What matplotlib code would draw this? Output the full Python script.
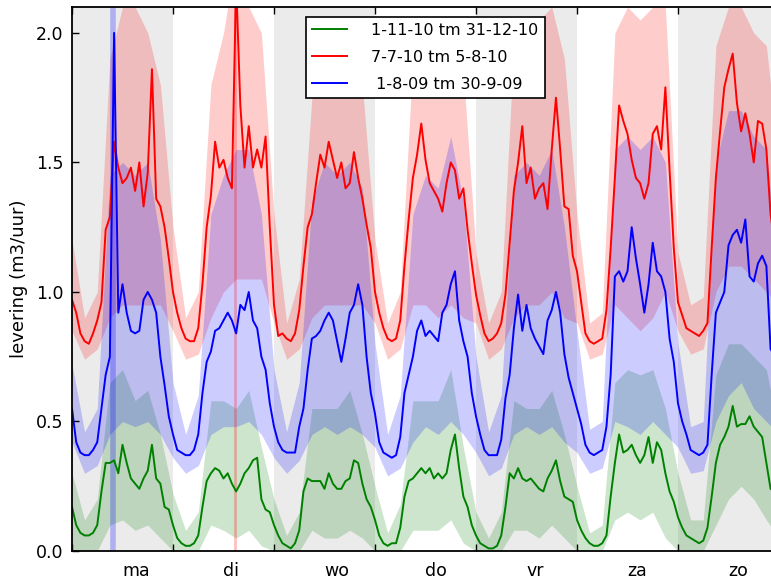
import numpy as np
import matplotlib
matplotlib.use("Agg")
import matplotlib.pyplot as plt

# hourly means over one week (hour 0..168)
hours = np.arange(169)

green = [
    0.17, 0.10, 0.07, 0.06, 0.06, 0.07, 0.10, 0.23, 0.34, 0.34, 0.35, 0.30, 0.41, 0.34, 0.28, 0.26, 0.24, 0.28, 0.31, 0.41, 0.28, 0.26, 0.17, 0.16,
    0.10, 0.05, 0.03, 0.02, 0.02, 0.03, 0.06, 0.17, 0.27, 0.30, 0.32, 0.31, 0.28, 0.30, 0.26, 0.23, 0.26, 0.30, 0.32, 0.35, 0.36, 0.20, 0.16, 0.15,
    0.10, 0.06, 0.03, 0.02, 0.01, 0.03, 0.08, 0.23, 0.28, 0.27, 0.27, 0.27, 0.24, 0.30, 0.26, 0.24, 0.24, 0.27, 0.28, 0.35, 0.34, 0.26, 0.20, 0.17,
    0.12, 0.06, 0.03, 0.02, 0.03, 0.03, 0.09, 0.21, 0.27, 0.28, 0.30, 0.32, 0.30, 0.32, 0.28, 0.30, 0.28, 0.30, 0.39, 0.45, 0.32, 0.21, 0.17, 0.10,
    0.06, 0.03, 0.02, 0.01, 0.01, 0.02, 0.06, 0.17, 0.30, 0.28, 0.32, 0.28, 0.27, 0.28, 0.26, 0.24, 0.23, 0.28, 0.31, 0.35, 0.27, 0.21, 0.20, 0.19,
    0.12, 0.08, 0.05, 0.03, 0.02, 0.02, 0.03, 0.06, 0.21, 0.34, 0.45, 0.38, 0.39, 0.41, 0.37, 0.34, 0.37, 0.44, 0.34, 0.42, 0.39, 0.30, 0.23, 0.19,
    0.13, 0.09, 0.06, 0.05, 0.04, 0.03, 0.04, 0.09, 0.21, 0.34, 0.41, 0.44, 0.48, 0.56, 0.48, 0.49, 0.49, 0.52, 0.48, 0.46, 0.44, 0.34, 0.24, 0.23, 0.23,
]

red = [
    0.97, 0.92, 0.84, 0.81, 0.80, 0.84, 0.89, 0.96, 1.24, 1.29, 1.58, 1.48, 1.42, 1.44, 1.48, 1.39, 1.50, 1.33, 1.46, 1.86, 1.36, 1.33, 1.25, 1.13,
    1.00, 0.92, 0.86, 0.82, 0.81, 0.81, 0.86, 1.03, 1.25, 1.37, 1.58, 1.48, 1.51, 1.44, 1.40, 2.20, 1.72, 1.48, 1.64, 1.48, 1.55, 1.48, 1.60, 1.25,
    0.95, 0.83, 0.84, 0.82, 0.81, 0.84, 0.93, 1.10, 1.25, 1.30, 1.42, 1.53, 1.48, 1.58, 1.51, 1.44, 1.50, 1.40, 1.42, 1.54, 1.44, 1.36, 1.26, 1.17,
    1.00, 0.92, 0.86, 0.82, 0.81, 0.82, 0.89, 1.10, 1.28, 1.44, 1.53, 1.65, 1.51, 1.42, 1.39, 1.36, 1.31, 1.42, 1.50, 1.47, 1.36, 1.40, 1.24, 1.11,
    0.99, 0.91, 0.84, 0.81, 0.82, 0.84, 0.88, 0.99, 1.19, 1.39, 1.50, 1.64, 1.42, 1.48, 1.36, 1.40, 1.42, 1.32, 1.55, 1.75, 1.55, 1.33, 1.32, 1.14,
    1.08, 0.96, 0.84, 0.81, 0.80, 0.81, 0.82, 0.93, 1.17, 1.44, 1.72, 1.66, 1.61, 1.51, 1.44, 1.42, 1.36, 1.42, 1.61, 1.64, 1.55, 1.79, 1.47, 1.17,
    0.96, 0.91, 0.86, 0.85, 0.84, 0.83, 0.85, 0.88, 1.17, 1.44, 1.62, 1.79, 1.86, 1.92, 1.73, 1.62, 1.69, 1.61, 1.50, 1.66, 1.65, 1.55, 1.30, 1.18, 1.15,
]

blue = [
    0.55, 0.42, 0.38, 0.37, 0.37, 0.39, 0.42, 0.55, 0.68, 0.75, 2.00, 0.92, 1.03, 0.92, 0.85, 0.84, 0.85, 0.97, 1.00, 0.97, 0.92, 0.75, 0.64, 0.52,
    0.45, 0.39, 0.38, 0.37, 0.37, 0.39, 0.45, 0.61, 0.73, 0.77, 0.85, 0.86, 0.89, 0.92, 0.89, 0.84, 0.95, 0.93, 1.00, 0.89, 0.86, 0.75, 0.70, 0.57,
    0.48, 0.42, 0.39, 0.38, 0.38, 0.38, 0.48, 0.55, 0.70, 0.82, 0.83, 0.85, 0.89, 0.92, 0.89, 0.81, 0.73, 0.82, 0.92, 0.95, 1.03, 0.95, 0.75, 0.61,
    0.53, 0.42, 0.38, 0.37, 0.36, 0.37, 0.44, 0.61, 0.68, 0.75, 0.85, 0.89, 0.83, 0.85, 0.83, 0.81, 0.92, 0.95, 1.03, 1.08, 0.89, 0.81, 0.75, 0.61,
    0.52, 0.45, 0.39, 0.37, 0.37, 0.37, 0.43, 0.59, 0.68, 0.86, 0.99, 0.85, 0.95, 0.86, 0.82, 0.79, 0.76, 0.89, 0.93, 1.00, 0.92, 0.76, 0.67, 0.61,
    0.55, 0.49, 0.41, 0.38, 0.37, 0.38, 0.39, 0.48, 0.68, 1.06, 1.08, 1.04, 1.08, 1.25, 1.13, 1.03, 0.92, 1.03, 1.19, 1.08, 1.06, 1.00, 0.82, 0.73,
    0.57, 0.50, 0.45, 0.39, 0.38, 0.37, 0.38, 0.41, 0.68, 0.92, 0.96, 1.00, 1.18, 1.22, 1.24, 1.19, 1.28, 1.06, 1.04, 1.11, 1.14, 1.10, 0.78, 0.75, 0.74,
]

# spread bands, every 3 hours
band_hours = np.arange(0, 169, 3)

green_lo = [0.00, 0.00, 0.00, 0.10, 0.12, 0.08, 0.10, 0.05,
            0.00, 0.00, 0.00, 0.10, 0.08, 0.05, 0.08, 0.02,
            0.00, 0.00, 0.00, 0.08, 0.05, 0.05, 0.08, 0.05,
            0.00, 0.00, 0.00, 0.08, 0.08, 0.08, 0.12, 0.03,
            0.00, 0.00, 0.00, 0.08, 0.08, 0.05, 0.10, 0.05,
            0.00, 0.00, 0.00, 0.12, 0.15, 0.12, 0.15, 0.05,
            0.00, 0.00, 0.00, 0.10, 0.20, 0.25, 0.20, 0.12, 0.05]
green_hi = [0.30, 0.12, 0.20, 0.65, 0.70, 0.58, 0.62, 0.45,
            0.22, 0.08, 0.15, 0.58, 0.58, 0.55, 0.62, 0.40,
            0.20, 0.06, 0.15, 0.55, 0.55, 0.55, 0.62, 0.45,
            0.25, 0.07, 0.18, 0.58, 0.58, 0.58, 0.70, 0.40,
            0.15, 0.05, 0.15, 0.58, 0.55, 0.55, 0.62, 0.45,
            0.25, 0.07, 0.10, 0.65, 0.70, 0.68, 0.70, 0.55,
            0.30, 0.12, 0.12, 0.68, 0.80, 0.80, 0.75, 0.70, 0.45]

red_lo = [0.85, 0.74, 0.78, 0.90, 0.95, 0.95, 0.95, 0.95,
          0.85, 0.74, 0.76, 0.90, 1.00, 1.05, 1.05, 1.05,
          0.88, 0.74, 0.78, 0.90, 0.95, 0.95, 0.95, 0.95,
          0.88, 0.74, 0.78, 0.95, 0.95, 0.90, 0.95, 0.90,
          0.88, 0.74, 0.78, 0.90, 0.95, 0.95, 1.00, 0.90,
          0.88, 0.74, 0.76, 0.95, 0.90, 0.85, 0.90, 1.00,
          0.85, 0.76, 0.78, 1.00, 1.10, 1.10, 1.05, 1.00, 0.95]
red_hi = [1.20, 0.90, 1.00, 1.90, 2.10, 2.10, 2.00, 1.80,
          1.25, 0.90, 1.00, 1.80, 2.00, 2.30, 2.10, 2.00,
          1.30, 0.88, 1.05, 1.75, 2.00, 2.00, 1.95, 1.80,
          1.20, 0.88, 1.00, 1.90, 2.00, 2.00, 2.00, 1.85,
          1.15, 0.88, 1.00, 1.95, 2.05, 2.05, 2.10, 1.90,
          1.30, 0.88, 0.92, 2.00, 2.10, 2.05, 2.10, 2.10,
          1.15, 0.95, 0.98, 1.95, 2.10, 2.10, 2.00, 1.95, 1.50]

blue_lo = [0.42, 0.30, 0.33, 0.45, 0.50, 0.48, 0.50, 0.45,
           0.36, 0.30, 0.33, 0.45, 0.48, 0.48, 0.50, 0.45,
           0.36, 0.30, 0.35, 0.45, 0.48, 0.45, 0.48, 0.45,
           0.40, 0.29, 0.32, 0.42, 0.48, 0.45, 0.50, 0.45,
           0.38, 0.29, 0.32, 0.45, 0.48, 0.45, 0.48, 0.42,
           0.38, 0.30, 0.32, 0.50, 0.48, 0.45, 0.50, 0.45,
           0.40, 0.30, 0.31, 0.50, 0.60, 0.65, 0.55, 0.50, 0.45]
blue_hi = [0.72, 0.46, 0.55, 1.45, 1.50, 1.45, 1.50, 1.20,
           0.65, 0.45, 0.60, 1.30, 1.45, 1.55, 1.55, 1.30,
           0.70, 0.46, 0.65, 1.35, 1.50, 1.45, 1.50, 1.40,
           0.80, 0.45, 0.60, 1.30, 1.45, 1.40, 1.60, 1.35,
           0.75, 0.46, 0.60, 1.45, 1.50, 1.45, 1.55, 1.25,
           0.85, 0.47, 0.50, 1.55, 1.60, 1.55, 1.60, 1.50,
           0.80, 0.48, 0.50, 1.50, 1.70, 1.70, 1.60, 1.55, 1.05]

# single-sample outliers whose band covers the whole axis
spike_hours = [9.8, 38.8]
spike_lo = [0.0, 0.0]
spike_hi = [2.1, 2.1]
spike_colors = ["b", "r"]

day_names = ["ma", "di", "wo", "do", "vr", "za", "zo"]
shaded_days = [0, 2, 4, 6]
labels = ["1-11-10 tm 31-12-10", "7-7-10 tm 5-8-10", " 1-8-09 tm 30-9-09"]

fig = plt.figure(figsize=(7.71, 5.80), dpi=100)
ax = fig.add_axes([72 / 771, 29 / 580, 707 / 771, 544 / 580])

for d in shaded_days:
    ax.axvspan(24 * d, 24 * d + 24, color="#ebebeb", lw=0, zorder=0)

ax.fill_between(band_hours, green_lo, green_hi, color="g", alpha=0.2, lw=0)
ax.fill_between(band_hours, red_lo, red_hi, color="r", alpha=0.2, lw=0)
ax.fill_between(band_hours, blue_lo, blue_hi, color="b", alpha=0.2, lw=0)
ax.vlines(spike_hours, spike_lo, spike_hi, colors=spike_colors, alpha=0.25, lw=[4, 2])

ax.plot(hours, green, color="g", lw=1.4, label=labels[0])
ax.plot(hours, red, color="r", lw=1.4, label=labels[1])
ax.plot(hours, blue, color="b", lw=1.4, label=labels[2])

ax.set_xlim(0, 168)
ax.set_ylim(0, 2.1)
ax.set_xticks(np.arange(0, 169, 24))
ax.set_xticklabels([])
ax.set_xticks(np.arange(12, 168, 24), minor=True)
ax.set_xticklabels(day_names, minor=True, ha="left", fontsize=12.5)
ax.set_yticks([0.0, 0.5, 1.0, 1.5, 2.0])
ax.set_yticklabels(["0.0", "0.5", "1.0", "1.5", "2.0"], fontsize=12.5)
ax.tick_params(which="major", direction="in", top=True, right=True, length=5, width=1)
ax.tick_params(which="minor", length=0, pad=8)
ax.tick_params(axis="y", pad=6)
for s in ax.spines.values():
    s.set_linewidth(1.3)

ax.set_ylabel("levering (m3/uur)", fontsize=13, labelpad=6)

leg = ax.legend(loc="upper center", fontsize=11.5, labelspacing=0.75,
                handletextpad=1.5, handlelength=2.2, fancybox=False,
                framealpha=1, edgecolor="black", borderaxespad=0.6)
leg.get_frame().set_linewidth(1.2)

fig.savefig("out.png", dpi=100)
